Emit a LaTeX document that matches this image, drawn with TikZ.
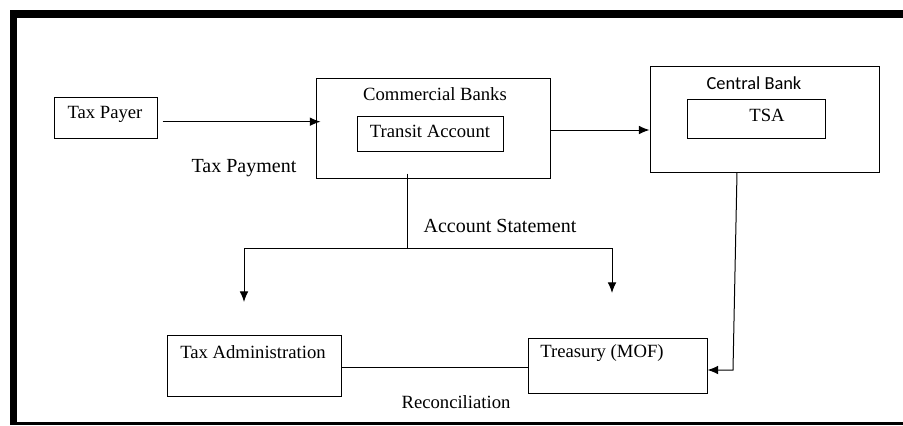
\documentclass[tikz,border=0pt]{standalone}
\usepackage{fontspec}
\setmainfont{Liberation Serif}
\newfontfamily\calibrifont{Carlito}
\usetikzlibrary{arrows.meta,fit}
\begin{document}
\begin{tikzpicture}[x=0.75pt,y=-0.75pt,
  box/.style={draw,line width=0.75pt,inner sep=0pt},
  lbl/.style={inner sep=0pt,font=\fontsize{14pt}{16pt}\selectfont},
  biglbl/.style={inner sep=0pt,font=\fontsize{15pt}{17pt}\selectfont},
  cbl/.style={inner sep=0pt,font=\calibrifont\fontsize{13.8pt}{16pt}\selectfont},
  conn/.style={line width=0.75pt},
  arr/.style={line width=0.75pt,-{Latex[length=8pt,width=6.5pt]}}]
\useasboundingbox (0,0) rectangle (903,425);
% frame
\fill (10,10) rectangle (903,18);
\fill (10,10) rectangle (17,425);
\fill (10,421.5) rectangle (903,425);
% boxes
\node[box, fit={(54,97) (157,138)}] (taxpayer) {};
\node[box, fit={(316,78) (550,178)}] (cb) {};
\node[box, fit={(357,116) (503,151)}] (transit) {};
\node[box, fit={(650,66) (879,172)}] (central) {};
\node[box, fit={(687,99) (825,138)}] (tsa) {};
\node[box, fit={(167,335) (341,396)}] (taxadmin) {};
\node[box, fit={(528,338) (707,393)}] (treasury) {};
% texts
\node[lbl] (tTaxPayer) at (105,114) {Tax Payer};
\node[lbl] (tCB) at (435,94) {Commercial Banks};
\node[lbl] (tTransit) at (430,131) {Transit Account};
\node[cbl] (tCentral) at (754,83) {Central Bank};
\node[lbl] (tTSA) at (767,115) {TSA};
\node[biglbl] (tPayment) at (244,168) {Tax Payment};
\node[biglbl] (tStatement) at (500,226) {Account Statement};
\node[lbl] (tTaxAdmin) at (253,352) {Tax Administration};
\node[lbl] (tTreasury) at (602,353) {Treasury (MOF)};
\node[lbl] (tRecon) at (456,402) {Reconciliation};
% connectors
\coordinate (split) at (407,248);
\coordinate (leftend) at (244,302);
\coordinate (rightend) at (612,293);
\coordinate (cbturn) at (733,370);
\coordinate (cbdrop) at (737,0);
\coordinate (reconY) at (0,367);
\draw[arr] ([shift={(5,4.2)}]taxpayer.east) -- ([shift={(5,4.2)}]taxpayer.east -| cb.west);
\draw[arr] ([shift={(0,2)}]cb.east) -- ([shift={(0,2)}]cb.east -| central.west);
\draw[conn] ([shift={(0,-5)}]cb.south -| split) -- (split);
\draw[conn] (leftend |- split) -- (rightend |- split);
\draw[arr] (leftend |- split) -- (leftend);
\draw[arr] (rightend |- split) -- (rightend);
\draw[conn] (taxadmin.east |- reconY) -- (treasury.west |- reconY);
\draw[arr] (central.south -| cbdrop) -- (cbturn) -- (treasury.east |- cbturn);
\end{tikzpicture}
\end{document}
